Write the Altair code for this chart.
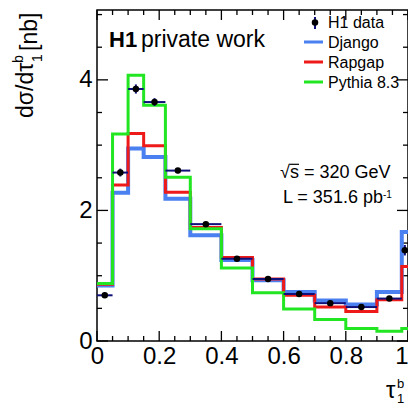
import altair as alt
import pandas as pd

# ---------------- data ----------------
edges = [0.0, 0.05, 0.1, 0.15, 0.22, 0.3, 0.4, 0.5, 0.6, 0.7, 0.8, 0.9, 0.98, 1.0]
h1_data = [0.70, 2.58, 3.86, 3.66, 2.61, 1.79, 1.26, 0.95, 0.72, 0.58, 0.52, 0.65, 1.39]
h1_err = [0.04, 0.06, 0.07, 0.06, 0.04, 0.03, 0.02, 0.02, 0.02, 0.02, 0.02, 0.03, 0.08]
django = [0.85, 2.27, 2.95, 2.82, 2.18, 1.62, 1.24, 0.93, 0.75, 0.62, 0.56, 0.75, 1.67]
rapgap = [0.87, 2.39, 3.18, 2.99, 2.28, 1.74, 1.28, 0.95, 0.70, 0.52, 0.45, 0.63, 1.14]
pythia = [0.88, 3.17, 4.07, 3.61, 2.51, 1.72, 1.12, 0.74, 0.49, 0.33, 0.19, 0.15, 0.19]

x_major = [0.0, 0.2, 0.4, 0.6, 0.8, 1.0]
x_minor = [0.05, 0.1, 0.15, 0.25, 0.3, 0.35, 0.45, 0.5, 0.55, 0.65, 0.7, 0.75, 0.85, 0.9, 0.95]
y_major = [0, 2, 4]
y_minor = [0.5, 1.0, 1.5, 2.5, 3.0, 3.5, 4.5, 5.0]

# ---------------- style ----------------
FONT = "Liberation Sans"
W, H = 311, 331
X0, Y0 = 97, 10  # absolute position of plot origin in the page
C_DJ = "#4a80f0"
C_RG = "#ee1a1a"
C_PY = "#22e622"
C_DATA = "#10107a"

xs = alt.Scale(domain=[0, 1], nice=False, zero=False)
ys = alt.Scale(domain=[0, 5.07], nice=False, zero=False)
xaxis = alt.Axis(values=x_major, format="~g", title=None, ticks=False, domain=False, grid=False,
                 labelFont=FONT, labelFontSize=24, labelColor="black", labelPadding=3,
                 labelAlign={"condition": {"test": "datum.value == 1", "value": "right"}, "value": "center"},
                 labelFlush=False, labelOverlap=False, tickSize=0)
yaxis = alt.Axis(values=y_major, format="~g", title=None, ticks=False, domain=False, grid=False,
                 labelFont=FONT, labelFontSize=24, labelColor="black", labelPadding=5,
                 labelFlush=False, labelOverlap=False, tickSize=0)

one = pd.DataFrame({"a": [0]})


def step(vals, color, sw):
    df = pd.DataFrame({"x": edges, "y": vals + [vals[-1]]})
    return alt.Chart(df).mark_line(interpolate="step-after", color=color, strokeWidth=sw).encode(
        x=alt.X("x:Q", scale=xs, axis=xaxis), y=alt.Y("y:Q", scale=ys, axis=yaxis))


def txt(text, X, Y, size, **kw):
    return alt.Chart(one).mark_text(text=text, font=FONT, fontSize=size, color="black",
                                    align="left", baseline="alphabetic", **kw).encode(
        x=alt.value(X - X0), y=alt.value(Y - Y0))


def hline(Xa, Xb, Y, color, sw):
    return alt.Chart(one).mark_rule(color=color, strokeWidth=sw).encode(
        x=alt.value(Xa - X0), x2=alt.value(Xb - X0), y=alt.value(Y - Y0))


def vline(X, Ya, Yb, color, sw):
    return alt.Chart(one).mark_rule(color=color, strokeWidth=sw).encode(
        x=alt.value(X - X0), y=alt.value(Ya - Y0), y2=alt.value(Yb - Y0))


# data points
dd = pd.DataFrame({"lo": edges[:-1], "hi": edges[1:], "v": h1_data, "e": h1_err})
dd["c"] = (dd["lo"] + dd["hi"]) / 2
dd["vlo"] = dd["v"] - dd["e"]
dd["vhi"] = dd["v"] + dd["e"]
base_d = alt.Chart(dd)
herr = base_d.mark_rule(color=C_DATA, strokeWidth=2).encode(
    x=alt.X("lo:Q", scale=xs, axis=xaxis), x2="hi:Q", y=alt.Y("v:Q", scale=ys, axis=yaxis))
verr = base_d.mark_rule(color=C_DATA, strokeWidth=2).encode(
    x=alt.X("c:Q", scale=xs, axis=xaxis), y=alt.Y("vlo:Q", scale=ys, axis=yaxis), y2="vhi:Q")
dots = base_d.mark_point(filled=True, shape="circle", size=42, color="black", opacity=1).encode(
    x=alt.X("c:Q", scale=xs, axis=xaxis), y=alt.Y("v:Q", scale=ys, axis=yaxis))


# frame ticks (inward)
def xticks(vals, length, top):
    df = pd.DataFrame({"t": vals})
    if top:
        yy, yy2 = 0, length
    else:
        yy, yy2 = H, H - length
    return alt.Chart(df).mark_rule(color="black", strokeWidth=1.3).encode(
        x=alt.X("t:Q", scale=xs, axis=xaxis), y=alt.value(yy), y2=alt.value(yy2))


def yticks(vals, length, right):
    df = pd.DataFrame({"t": vals})
    if right:
        xx, xx2 = W, W - length
    else:
        xx, xx2 = 0, length
    return alt.Chart(df).mark_rule(color="black", strokeWidth=1.3).encode(
        y=alt.Y("t:Q", scale=ys, axis=yaxis), x=alt.value(xx), x2=alt.value(xx2))


ticks = [xticks(x_major, 10, False), xticks(x_minor, 5, False),
         xticks(x_major, 10, True), xticks(x_minor, 5, True),
         yticks(y_major, 11, False), yticks(y_minor, 5, False),
         yticks(y_major, 11, True), yticks(y_minor, 5, True)]

# legend
legend = [
    vline(315, 17, 29, C_DATA, 2),
    alt.Chart(one).mark_point(filled=True, shape="circle", size=42, color="black", opacity=1).encode(
        x=alt.value(315 - X0), y=alt.value(22.5 - Y0)),
    txt("H1 data", 328, 27.5, 16),
    hline(304, 323, 42, C_DJ, 3), txt("Django", 328, 47.5, 16),
    hline(304, 323, 62, C_RG, 3), txt("Rapgap", 328, 67.5, 16),
    hline(304, 323, 82, C_PY, 3), txt("Pythia 8.3", 328, 87.5, 16),
]

texts = [
    txt("H1", 109, 47, 22, fontWeight="bold"),
    txt("private work", 141, 47, 23),
    txt("√s = 320 GeV", 280, 178, 18),
    hline(289.5, 299, 164.3, "black", 1.2),
    txt("L = 351.6 pb", 283, 203, 18),
    txt("-1", 383, 197.5, 10),
    # x title
    txt("τ", 386, 398, 24),
    txt("b", 397, 388, 13),
    txt("1", 397, 403, 13),
    # y title (rotated)
    txt("dσ/dτ", 33, 118, 23, angle=270),
    txt("1", 42, 62, 14, angle=270),
    txt("b", 23, 63, 14, angle=270),
    txt("[nb]", 37, 51, 23, angle=270),
]

chart = alt.layer(
    *ticks,
    step(django, C_DJ, 4),
    step(rapgap, C_RG, 3),
    step(pythia, C_PY, 3),
    herr, verr, dots,
    *legend,
    *texts,
).properties(
    width=W, height=H,
    autosize=alt.AutoSizeParams(type="none"),
    padding={"left": 89, "top": 2, "right": 0, "bottom": 64},
).configure_view(stroke="black", strokeWidth=1.5)

chart.save("out.html", embed_options={"renderer": "svg", "actions": False})
